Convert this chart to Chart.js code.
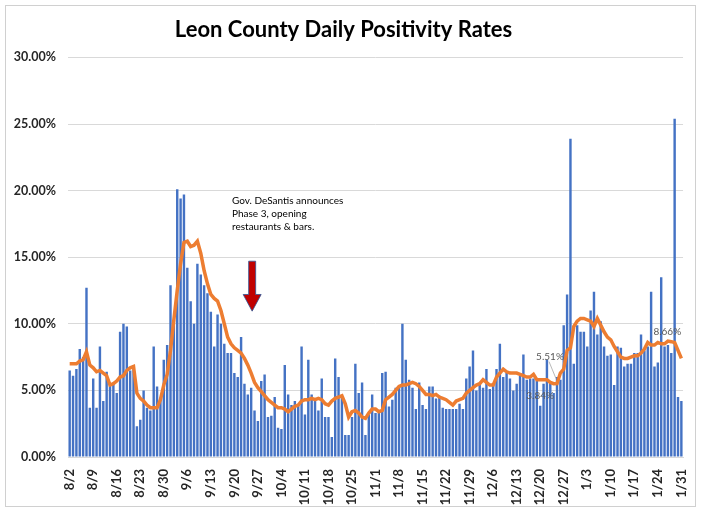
<!DOCTYPE html>
<html>
<head>
<meta charset="utf-8">
<script src="https://cdn.jsdelivr.net/npm/chart.js@4.4.1/dist/chart.umd.min.js"></script>
<style>
  html, body { margin: 0; padding: 0; background: #fff; }
  #wrap { width: 701px; height: 512px; }
</style>
</head>
<body>
<div id="wrap"><canvas id="myChart" width="701" height="512"></canvas></div>
<script>
// daily positivity (%) 8/2 .. 1/31
const positivity = [
    6.5, 6.1, 6.6, 8.1, 7.5, 12.7, 3.7, 5.9, 3.7, 8.3,
    4.2, 6.4, 5.4, 5.6, 4.8, 9.4, 10.0, 9.8, 6.5, 6.9,
    2.3, 2.8, 5.0, 3.7, 3.5, 8.3, 5.3, 4.3, 7.3, 8.4,
    12.9, 10.3, 20.1, 19.4, 19.7, 14.2, 11.7, 10.0, 14.5, 13.7,
    12.9, 12.3, 10.9, 8.3, 10.7, 10.0, 8.5, 7.8, 7.8, 6.3,
    6.0, 9.0, 5.5, 4.7, 5.2, 3.5, 2.7, 5.7, 6.2, 3.0,
    3.1, 4.5, 2.2, 2.1, 6.9, 4.7, 3.9, 4.2, 3.9, 8.3,
    3.2, 7.3, 4.7, 4.2, 3.5, 5.9, 3.0, 3.0, 1.5, 7.4,
    6.0, 4.5, 1.65, 1.65, 3.0, 7.0, 4.8, 5.6, 1.65, 3.2,
    4.7, 3.3, 3.3, 6.3, 6.4, 3.8, 4.3, 5.2, 5.3, 10.0,
    7.3, 5.8, 5.2, 3.6, 5.6, 3.9, 3.6, 5.3, 5.3, 4.4,
    4.6, 3.7, 3.6, 3.6, 3.6, 3.6, 4.0, 3.6, 5.9, 6.8,
    8.0, 5.0, 5.5, 5.2, 6.6, 5.1, 5.5, 6.6, 8.5, 6.0,
    6.3, 5.9, 5.0, 5.5, 6.1, 7.7, 5.8, 5.9, 5.9, 5.7,
    3.84, 5.5, 7.3, 5.6, 4.8, 6.0, 5.8, 9.9, 12.2, 23.9,
    7.0, 9.9, 9.4, 9.4, 8.3, 11.0, 12.4, 9.2, 10.2, 8.3,
    7.6, 7.7, 5.4, 8.3, 8.2, 6.8, 7.0, 7.0, 7.8, 7.8,
    9.2, 8.0, 8.3, 12.4, 6.8, 7.1, 13.5, 8.3, 8.4, 7.8,
    25.4, 4.5, 4.2
]

// orange trend line (%)
const movingAvg = [
    7.0, 7.0, 7.0, 7.2, 7.3, 7.9, 6.9, 6.7, 6.4, 6.5,
    6.3, 6.1, 5.4, 5.5, 5.7, 6.0, 6.1, 6.5, 6.7, 6.8,
    4.8, 4.4, 4.2, 3.9, 3.7, 3.7, 3.7, 4.3, 5.4, 6.2,
    8.0, 10.3, 12.5, 14.5, 16.1, 16.2, 15.8, 15.9, 16.2, 15.3,
    14.0, 13.0, 12.2, 11.9, 11.7, 11.0, 10.0, 9.0, 8.5, 8.2,
    8.0, 7.8, 7.4, 6.9, 6.3, 5.6, 5.2, 4.9, 4.6, 4.3,
    4.1, 3.9, 3.7, 3.7, 3.6, 3.4, 3.6, 3.8, 3.9, 4.2,
    4.3, 4.3, 4.4, 4.3, 4.4, 4.3, 4.0, 3.9, 4.2, 4.4,
    4.5, 4.6, 4.0, 3.0, 3.4, 3.5, 3.3, 3.0, 2.9, 3.3,
    3.6, 3.6, 3.4, 3.5, 4.3, 4.5, 4.7, 5.0, 5.3, 5.4,
    5.4, 5.5, 5.6, 5.5, 5.3, 5.0, 4.7, 4.7, 4.6, 4.7,
    4.5, 4.4, 4.3, 4.1, 3.9, 4.2, 4.3, 4.4, 4.8, 5.0,
    5.2, 5.4, 5.5, 5.8, 5.6, 5.4, 5.4, 6.0, 6.3, 6.6,
    6.4, 6.3, 6.3, 6.3, 6.2, 6.1, 6.0, 6.0, 6.2, 5.8,
    5.8, 5.8, 5.8, 5.6, 5.5, 5.51, 6.3, 6.6, 8.0, 8.2,
    9.8, 10.2, 10.4, 10.4, 10.3, 10.2, 9.8, 10.4, 9.9, 9.4,
    9.0, 8.8, 8.3, 7.9, 7.5, 7.4, 7.4, 7.5, 7.6, 7.6,
    7.8, 8.1, 8.6, 8.4, 8.4, 8.6, 8.5, 8.5, 8.7, 8.66,
    8.6, 8.0, 7.4
]

const yTicks = [0, 5, 10, 15, 20, 25, 30]

// day labels 8/2/2020 .. 1/31/2021, one tick label each week
let days = []
let d = new Date(2020, 7, 2)
for (let i = 0; i < positivity.length; i++) {
    days.push((d.getMonth() + 1) + '/' + d.getDate())
    d.setDate(d.getDate() + 1)
}

// labelled points: [dataset, index, text]
const valueLabels = [
    ['bar', 140, '3.84%'],
    ['line', 145, '5.51%'],
    ['line', 179, '8.66%']
]

const noteLines = ['Gov. DeSantis announces', 'Phase 3, opening', 'restaurants & bars.']
const noteDay = 48
const arrowDay = 54

const extrasPlugin = {
    id: 'extras',
    beforeDraw(chart) {
        const ctx = chart.ctx
        ctx.save()
        ctx.strokeStyle = '#d0d0d0'
        ctx.lineWidth = 1
        ctx.strokeRect(5.5, 5.5, 690, 501)
        ctx.restore()
    },
    afterDatasetsDraw(chart) {
        const ctx = chart.ctx
        const xs = chart.scales.x
        const ys = chart.scales.y
        ctx.save()

        // annotation text
        ctx.fillStyle = '#000'
        ctx.font = '10px Lato'
        ctx.textAlign = 'left'
        ctx.textBaseline = 'middle'
        let tx = xs.getPixelForValue(noteDay) + 1
        let ty = ys.getPixelForValue(19.25)
        noteLines.forEach((t, i) => ctx.fillText(t, tx, ty + i * 13))

        // red arrow
        const ax = xs.getPixelForValue(arrowDay) + 1
        const aTop = ys.getPixelForValue(14.7)
        const aHead = ys.getPixelForValue(12.2)
        const aTip = ys.getPixelForValue(10.95)
        ctx.beginPath()
        ctx.moveTo(ax - 3.5, aTop)
        ctx.lineTo(ax + 3.5, aTop)
        ctx.lineTo(ax + 3.5, aHead)
        ctx.lineTo(ax + 9, aHead)
        ctx.lineTo(ax, aTip)
        ctx.lineTo(ax - 9, aHead)
        ctx.lineTo(ax - 3.5, aHead)
        ctx.closePath()
        ctx.fillStyle = '#C00000'
        ctx.fill()
        ctx.strokeStyle = '#2F5597'
        ctx.lineWidth = 0.8
        ctx.stroke()

        // value labels
        ctx.font = '10px Lato'
        ctx.fillStyle = '#595959'
        ctx.textAlign = 'center'
        valueLabels.forEach(([which, idx, text]) => {
            const meta = chart.getDatasetMeta(which === 'bar' ? 0 : 1)
            const el = meta.data[idx]
            if (which === 'bar') {
                ctx.fillText(text, el.x, el.y - 10)
            } else if (idx === 145) {
                ctx.fillText(text, el.x - 7, el.y - 27)
                ctx.beginPath()
                ctx.strokeStyle = '#a6a6a6'
                ctx.lineWidth = 0.8
                ctx.moveTo(el.x - 8, el.y - 22)
                ctx.lineTo(el.x - 1, el.y - 5)
                ctx.stroke()
            } else {
                ctx.fillText(text, el.x - 4, el.y - 10)
            }
        })
        ctx.restore()
    }
}

const ctx = document.getElementById('myChart')

new Chart(ctx, {
    type: 'bar',
    data: {
        labels: days,
        datasets: [{
            label: 'Daily Positivity',
            data: positivity,
            backgroundColor: '#4472C4',
            barPercentage: 0.72,
            categoryPercentage: 1,
            order: 1
        }, {
            type: 'line',
            label: 'Trend',
            data: movingAvg,
            borderColor: '#ED7D31',
            borderWidth: 3.5,
            pointRadius: 0,
            tension: 0,
            order: 0
        }]
    },
    options: {
        responsive: false,
        animation: false,
        layout: { padding: { left: 0, right: 14, top: 0, bottom: 0 } },
        plugins: {
            legend: { display: false },
            tooltip: { enabled: false },
            title: {
                display: true,
                text: 'Leon County Daily Positivity Rates',
                color: '#000',
                font: { family: 'Lato', size: 22, weight: 'bold' },
                padding: { top: 17, bottom: 14 }
            }
        },
        scales: {
            x: {
                grid: { display: false },
                border: { color: '#d9d9d9' },
                afterFit: (scale) => { scale.height = 55 },
                ticks: {
                    autoSkip: false,
                    maxRotation: 90,
                    minRotation: 90,
                    padding: 4,
                    color: '#262626',
                    font: { family: 'Lato', size: 13, weight: 'bold' },
                    callback: (v, i) => i % 7 === 0 ? days[i] : ''
                }
            },
            y: {
                min: 0,
                max: 30,
                afterFit: (scale) => { scale.width = 68 },
                afterBuildTicks: (scale) => { scale.ticks = yTicks.map(v => ({ value: v })) },
                grid: { color: '#d9d9d9', drawTicks: false },
                border: { display: false },
                ticks: {
                    padding: 12,
                    color: '#262626',
                    font: { family: 'Lato', size: 12.5, weight: 'bold' },
                    callback: (v) => v.toFixed(2) + '%'
                }
            }
        }
    },
    plugins: [extrasPlugin]
})
</script>
</body>
</html>
